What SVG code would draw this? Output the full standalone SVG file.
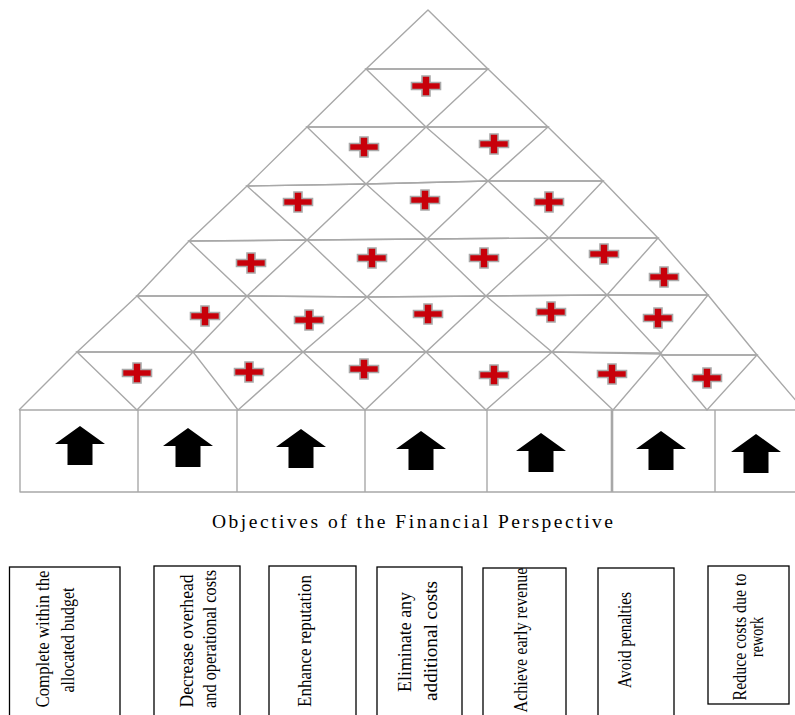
<svg xmlns="http://www.w3.org/2000/svg" xmlns:xlink="http://www.w3.org/1999/xlink" width="795" height="715" viewBox="0 0 795 715">
  <style>
    .grid { fill: none; stroke: #a8a8a8; stroke-width: 1.4; stroke-linejoin: round; }
    .cell { fill: none; stroke: #a8a8a8; stroke-width: 1.4; }
    .plus { fill: #c8000a; stroke: #a9a9a9; stroke-width: 1.6; }
    .arrow { fill: #000; }
    .box { fill: #fff; stroke: #000; stroke-width: 1.3; }
    .lbl { font-family: "Liberation Serif", "Times New Roman", serif; font-size: 18.5px; fill: #000; text-anchor: middle; }
    .title { font-family: "Liberation Serif", "Times New Roman", serif; font-size: 19.5px; fill: #000; }
  </style>
  <defs>
    <path id="plus" class="plus" d="M-4,-10 H4 V-3.5 H14.5 V3.5 H4 V10 H-4 V3.5 H-14.5 V-3.5 H-4 Z"/>
    <path id="up" class="arrow" d="M0,0 L25,18 H12.5 V39 H-12.5 V18 H-25 Z"/>
  </defs>
  <rect width="795" height="715" fill="#fff"/>

  <!-- pyramid of triangles -->
  <g id="pyramid">
    <polyline class="grid" points="19,410 77,352 137,296 189,241 247,186 307,127 366,69 428,10 488,69 548,127 603,181 658,238 708,295 757,355 804,410"/>
    <polyline class="grid" points="366,69 488,69"/>
    <polyline class="grid" points="307,127 548,127"/>
    <polyline class="grid" points="247,186 366,184 488,181 603,181"/>
    <polyline class="grid" points="189,241 307,240 427,239 549,238 658,238"/>
    <polyline class="grid" points="137,296 247,296 367,297 486,296 607,295 708,295"/>
    <polyline class="grid" points="77,352 193,352 303,352 426,352 552,352 661,353"/>
    <polyline class="grid" points="661,355 757,355"/>
    <polyline class="grid" points="19,410 795,410"/>
    <!-- inverted cells -->
    <polygon class="cell" points="366,69 488,69 426,127"/>
    <polygon class="cell" points="307,127 426,127 366,184"/>
    <polygon class="cell" points="426,127 548,127 488,181"/>
    <polygon class="cell" points="247,186 366,184 307,240"/>
    <polygon class="cell" points="366,184 488,181 427,239"/>
    <polygon class="cell" points="488,181 603,181 549,238"/>
    <polygon class="cell" points="189,241 307,240 247,296"/>
    <polygon class="cell" points="307,240 427,239 367,297"/>
    <polygon class="cell" points="427,239 549,238 486,296"/>
    <polygon class="cell" points="549,238 658,238 607,295"/>
    <polygon class="cell" points="137,296 247,296 193,352"/>
    <polygon class="cell" points="247,296 367,297 303,352"/>
    <polygon class="cell" points="367,297 486,296 426,352"/>
    <polygon class="cell" points="486,296 607,295 552,352"/>
    <polygon class="cell" points="607,295 708,295 661,353"/>
    <polygon class="cell" points="77,352 193,352 137,410"/>
    <polygon class="cell" points="193,352 303,352 238,410"/>
    <polygon class="cell" points="303,352 426,352 365,410"/>
    <polygon class="cell" points="426,352 552,352 486,410"/>
    <polygon class="cell" points="552,352 661,354 613,410"/>
    <polygon class="cell" points="661,355 757,355 707,410"/>
  </g>

  <!-- plus markers -->
  <g id="pluses">
    <use xlink:href="#plus" x="426" y="86"/>
    <use xlink:href="#plus" x="364" y="147"/>
    <use xlink:href="#plus" x="494" y="144"/>
    <use xlink:href="#plus" x="298" y="202"/>
    <use xlink:href="#plus" x="425" y="200"/>
    <use xlink:href="#plus" x="549" y="202"/>
    <use xlink:href="#plus" x="251" y="263"/>
    <use xlink:href="#plus" x="372" y="258"/>
    <use xlink:href="#plus" x="484" y="258"/>
    <use xlink:href="#plus" x="604" y="254"/>
    <use xlink:href="#plus" x="664" y="277"/>
    <use xlink:href="#plus" x="205" y="316"/>
    <use xlink:href="#plus" x="309" y="320"/>
    <use xlink:href="#plus" x="428" y="314"/>
    <use xlink:href="#plus" x="551" y="312"/>
    <use xlink:href="#plus" x="658" y="318"/>
    <use xlink:href="#plus" x="137" y="373"/>
    <use xlink:href="#plus" x="249" y="372"/>
    <use xlink:href="#plus" x="364" y="369"/>
    <use xlink:href="#plus" x="494" y="375"/>
    <use xlink:href="#plus" x="612" y="374"/>
    <use xlink:href="#plus" x="707" y="378"/>
  </g>

  <!-- base row of cells with up arrows -->
  <g id="base">
    <polyline class="grid" points="795,492 20,492 20,410"/>
    <line class="grid" x1="138" y1="410" x2="138" y2="492"/>
    <line class="grid" x1="237" y1="410" x2="237" y2="492"/>
    <line class="grid" x1="365" y1="410" x2="365" y2="492"/>
    <line class="grid" x1="487" y1="410" x2="487" y2="492"/>
    <line class="grid" x1="612" y1="410" x2="612" y2="492" style="stroke-width:2.6"/>
    <line class="grid" x1="715" y1="410" x2="715" y2="492"/>
    <use xlink:href="#up" x="80" y="426"/>
    <use xlink:href="#up" x="188" y="428"/>
    <use xlink:href="#up" x="301" y="429"/>
    <use xlink:href="#up" x="421" y="431"/>
    <use xlink:href="#up" x="541" y="433"/>
    <use xlink:href="#up" x="661" y="431"/>
    <use xlink:href="#up" x="756" y="434"/>
  </g>

  <text id="title" class="title" x="212" y="528" textLength="401" lengthAdjust="spacing">Objectives of the Financial Perspective</text>

  <!-- objective cards, text reads bottom to top -->
  <g id="obj1">
    <rect class="box" x="9.5" y="567" width="110.5" height="160"/>
    <text class="lbl" transform="translate(49,639) rotate(-90)" textLength="137" lengthAdjust="spacingAndGlyphs">Complete within the</text>
    <text class="lbl" transform="translate(74,640) rotate(-90)" textLength="105" lengthAdjust="spacingAndGlyphs">allocated budget</text>
  </g>
  <g id="obj2">
    <rect class="box" x="154" y="566" width="86" height="160"/>
    <text class="lbl" transform="translate(193,641) rotate(-90)" textLength="133" lengthAdjust="spacingAndGlyphs">Decrease overhead</text>
    <text class="lbl" transform="translate(216,639) rotate(-90)" textLength="138" lengthAdjust="spacingAndGlyphs">and operational costs</text>
  </g>
  <g id="obj3">
    <rect class="box" x="269" y="566" width="87" height="160"/>
    <text class="lbl" transform="translate(311,641) rotate(-90)" textLength="132" lengthAdjust="spacingAndGlyphs">Enhance reputation</text>
  </g>
  <g id="obj4">
    <rect class="box" x="377" y="567" width="85" height="160"/>
    <text class="lbl" transform="translate(411,642) rotate(-90)" textLength="100" lengthAdjust="spacingAndGlyphs">Eliminate any</text>
    <text class="lbl" transform="translate(437,641) rotate(-90)" textLength="120" lengthAdjust="spacingAndGlyphs">additional costs</text>
  </g>
  <g id="obj5">
    <rect class="box" x="483" y="568" width="83" height="160"/>
    <text class="lbl" transform="translate(527,640) rotate(-90)" textLength="145" lengthAdjust="spacingAndGlyphs">Achieve early revenue</text>
  </g>
  <g id="obj6">
    <rect class="box" x="598" y="568" width="76" height="160"/>
    <text class="lbl" transform="translate(631,640) rotate(-90)" textLength="96" lengthAdjust="spacingAndGlyphs">Avoid penalties</text>
  </g>
  <g id="obj7">
    <rect class="box" x="708" y="566" width="81" height="138"/>
    <text class="lbl" transform="translate(746,637) rotate(-90)" textLength="127" lengthAdjust="spacingAndGlyphs">Reduce costs due to</text>
    <text class="lbl" transform="translate(763,637) rotate(-90)" textLength="40" lengthAdjust="spacingAndGlyphs">rework</text>
  </g>
</svg>
